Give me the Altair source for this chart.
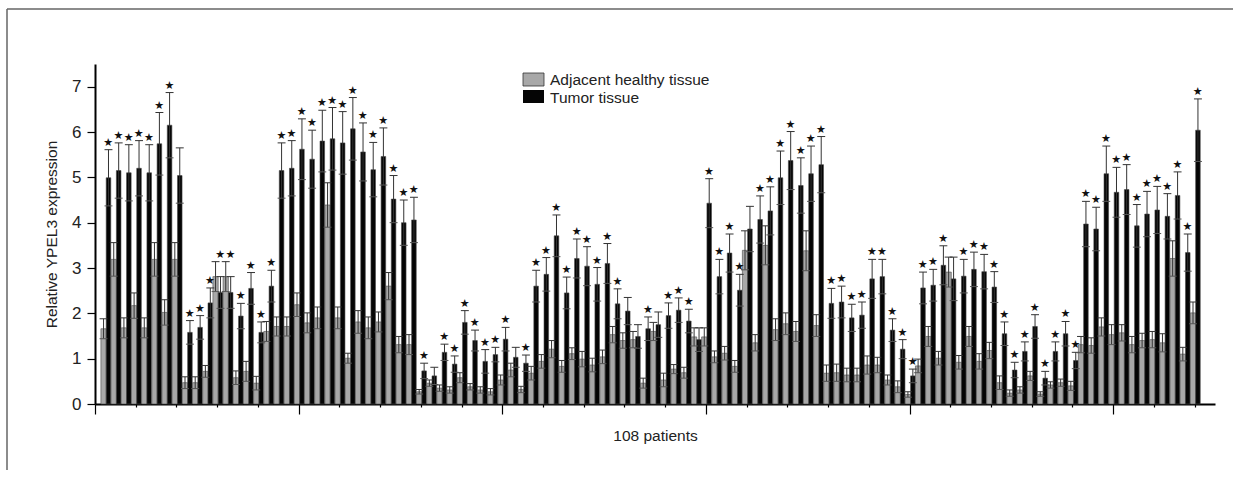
import altair as alt
import pandas as pd

FONT = "Liberation Sans, Arial, sans-serif"

patients = list(range(1, 109))

adjacent = [1.66, 3.19, 1.68, 2.17, 1.68, 3.19, 2.02, 3.19, 0.47, 0.47, 0.72, 2.81, 2.81, 0.58, 0.72, 0.46, 1.60, 1.71,
            1.71, 2.19, 1.79, 1.90, 4.39, 1.90, 1.01, 1.81, 1.68, 1.81, 2.60, 1.31, 1.31, 0.27, 0.46, 0.35, 0.31, 0.58, 0.38,
            0.31, 0.27, 0.53, 0.75, 0.32, 0.68, 0.94, 1.21, 0.83, 1.11, 0.99, 0.86, 1.04, 1.53, 1.40, 1.42, 0.46, 1.60, 0.53,
            0.77, 0.69, 1.48, 1.48, 1.04, 1.12, 0.83, 3.39, 1.35, 3.50, 1.64, 1.77, 1.60, 3.38, 1.73, 0.68, 0.69, 0.64, 0.64,
            0.86, 0.86, 0.53, 0.38, 0.21, 0.84, 1.49, 1.01, 2.91, 0.92, 1.49, 0.94, 1.18, 0.47, 0.24, 0.31, 0.62, 0.22, 0.42, 0.47,
            0.40, 1.31, 1.29, 1.70, 1.53, 1.57, 1.31, 1.40, 1.42, 1.35, 3.21, 1.10, 2.01]

tumor = [4.99, 5.15, 5.10, 5.20, 5.10, 5.74, 6.15, 5.04, 1.58, 1.69, 2.23, 2.46, 2.46, 1.94, 2.55, 1.58, 2.60, 5.15,
         5.20, 5.62, 5.40, 5.80, 5.85, 5.76, 6.07, 5.56, 5.17, 5.46, 4.52, 4.00, 4.06, 0.73, 0.62, 1.14, 0.88, 1.80, 1.40,
         0.94, 1.09, 1.43, 1.03, 0.90, 2.60, 2.86, 3.71, 2.45, 3.21, 3.04, 2.64, 3.10, 2.21, 2.05, 1.49, 1.66, 1.75, 1.95,
         2.07, 1.83, 1.42, 4.43, 2.81, 3.33, 2.51, 3.86, 4.07, 4.26, 4.99, 5.37, 4.82, 5.08, 5.28, 2.22, 2.25, 1.90, 1.96,
         2.76, 2.81, 1.63, 1.21, 0.62, 2.56, 2.62, 3.06, 2.76, 2.82, 2.97, 2.92, 2.58, 1.55, 0.75, 1.16, 1.71, 0.57, 1.16, 1.55,
         0.96, 3.97, 3.86, 5.08, 4.67, 4.73, 3.93, 4.19, 4.28, 4.14, 4.60, 3.34, 6.04]

adjacent_err = [0.22, 0.37, 0.22, 0.28, 0.22, 0.37, 0.28, 0.37, 0.13, 0.13, 0.13, 0.33, 0.33, 0.15, 0.22, 0.15, 0.22, 0.21,
                0.21, 0.26, 0.22, 0.24, 0.49, 0.24, 0.11, 0.25, 0.24, 0.22, 0.30, 0.18, 0.22, 0.05, 0.07, 0.07, 0.07, 0.11, 0.07,
                0.07, 0.07, 0.11, 0.15, 0.07, 0.15, 0.15, 0.19, 0.13, 0.13, 0.17, 0.15, 0.15, 0.18, 0.17, 0.18, 0.11, 0.20, 0.15,
                0.10, 0.12, 0.20, 0.20, 0.13, 0.15, 0.13, 0.43, 0.18, 0.43, 0.24, 0.24, 0.22, 0.44, 0.24, 0.18, 0.19, 0.15, 0.15,
                0.20, 0.17, 0.11, 0.13, 0.06, 0.15, 0.22, 0.15, 0.33, 0.15, 0.22, 0.17, 0.18, 0.15, 0.07, 0.07, 0.10, 0.05, 0.07, 0.08,
                0.10, 0.18, 0.17, 0.20, 0.22, 0.18, 0.18, 0.16, 0.18, 0.20, 0.39, 0.15, 0.24]

tumor_err = [0.62, 0.61, 0.62, 0.61, 0.62, 0.69, 0.72, 0.61, 0.26, 0.26, 0.33, 0.35, 0.35, 0.28, 0.35, 0.23, 0.35, 0.61,
             0.61, 0.67, 0.64, 0.68, 0.69, 0.69, 0.69, 0.64, 0.60, 0.63, 0.52, 0.50, 0.50, 0.17, 0.19, 0.18, 0.18, 0.26, 0.23,
             0.26, 0.16, 0.26, 0.22, 0.18, 0.35, 0.37, 0.46, 0.35, 0.43, 0.43, 0.37, 0.44, 0.33, 0.30, 0.26, 0.26, 0.28, 0.28,
             0.27, 0.26, 0.26, 0.54, 0.38, 0.42, 0.35, 0.50, 0.52, 0.53, 0.59, 0.64, 0.61, 0.61, 0.62, 0.33, 0.35, 0.30, 0.29,
             0.43, 0.38, 0.25, 0.21, 0.15, 0.35, 0.35, 0.43, 0.48, 0.37, 0.38, 0.38, 0.34, 0.26, 0.17, 0.21, 0.26, 0.15, 0.21, 0.27,
             0.18, 0.50, 0.48, 0.61, 0.55, 0.55, 0.47, 0.50, 0.52, 0.50, 0.52, 0.41, 0.69]

no_star = [8, 33, 41, 52, 53, 55, 59, 64, 84]

tissues = ["Adjacent healthy tissue", "Tumor tissue"]
colors = ["#a8a8a8", "#050505"]

rows = []
for i, p in enumerate(patients):
    rows.append(dict(patient=p, tissue=tissues[0], value=adjacent[i], err=adjacent_err[i],
                     x0=p - 0.42, x1=p + 0.10))
    rows.append(dict(patient=p, tissue=tissues[1], value=tumor[i], err=tumor_err[i],
                     x0=p + 0.10, x1=p + 0.55))
df = pd.DataFrame(rows)
df["xc"] = (df["x0"] + df["x1"]) / 2
df["lo"] = df["value"] - df["err"]
df["hi"] = df["value"] + df["err"]
df["cl"] = df["xc"] - 0.39
df["cr"] = df["xc"] + 0.39

star_rows = []
for i, p in enumerate(patients):
    if p in no_star:
        continue
    star_rows.append(dict(patient=p, xc=p + 0.30,
                          top=max(adjacent[i] + adjacent_err[i], tumor[i] + tumor_err[i])))
stars_df = pd.DataFrame(star_rows)

xscale = alt.Scale(domain=[0, 110], nice=False, zero=False)
yscale = alt.Scale(domain=[0, 7.5], nice=False)

xaxis = alt.Axis(
    values=list(range(0, 111)),
    tickSize={"condition": {"test": "datum.value % 10 === 0", "value": 10}, "value": 3},
    labels=False, title="108 patients", titleFont=FONT, titleFontSize=15.5,
    titleFontWeight="normal", titleColor="#222", titlePadding=14,
    domainColor="#000", domainWidth=2, tickColor="#000", tickWidth=1.2, grid=False,
)
yaxis = alt.Axis(
    values=[k * 0.5 for k in range(16)],
    labelExpr="datum.value % 1 === 0 ? datum.label : ''",
    tickSize={"condition": {"test": "datum.value % 1 === 0", "value": 8}, "value": 5},
    labelFont=FONT, labelFontSize=17, labelColor="#222", labelPadding=6, labelOverlap=False,
    title="Relative YPEL3 expression", titleFont=FONT, titleFontSize=15.5,
    titleFontWeight="normal", titleColor="#222", titlePadding=12,
    domainColor="#000", domainWidth=2, tickColor="#000", tickWidth=1.2, grid=False,
)

base = alt.Chart(df)

bars = base.mark_rect(stroke="#4a4a4a", strokeWidth=0.6).encode(
    x=alt.X("x0:Q", scale=xscale, axis=xaxis),
    x2="x1:Q",
    y=alt.Y("value:Q", scale=yscale, axis=yaxis),
    y2=alt.datum(0),
    fill=alt.Fill("tissue:N", scale=alt.Scale(domain=tissues, range=colors), legend=None),
)

whisker = base.mark_rule(color="#333", strokeWidth=1).encode(
    x="xc:Q", y="lo:Q", y2="hi:Q"
)
cap_hi = base.mark_rule(color="#333", strokeWidth=1).encode(
    x="cl:Q", x2="cr:Q", y="hi:Q"
)
cap_lo = base.mark_rule(color="#555", strokeWidth=1).encode(
    x="cl:Q", x2="cr:Q", y="lo:Q"
)

stars = alt.Chart(stars_df).mark_text(
    text="★", fontSize=11, dy=-7, baseline="middle", color="#111", font="DejaVu Sans"
).encode(x="xc:Q", y="top:Q")

one = pd.DataFrame({"k": [0]})
leg_grey = alt.Chart(one).mark_rect(fill=colors[0], stroke="#333", strokeWidth=0.8).encode(
    x=alt.value(428), x2=alt.value(449), y=alt.value(9), y2=alt.value(22))
leg_black = alt.Chart(one).mark_rect(fill=colors[1]).encode(
    x=alt.value(428), x2=alt.value(449), y=alt.value(26), y2=alt.value(39))
leg_t1 = alt.Chart(one).mark_text(align="left", baseline="alphabetic", font=FONT, fontSize=15.5,
                                  color="#222", text=tissues[0]).encode(
    x=alt.value(455), y=alt.value(21))
leg_t2 = alt.Chart(one).mark_text(align="left", baseline="alphabetic", font=FONT, fontSize=15.5,
                                  color="#222", text=tissues[1]).encode(
    x=alt.value(455), y=alt.value(38.5))

frame_top = alt.Chart(one).mark_rule(color="#666", strokeWidth=1.5).encode(
    x=alt.value(-88), x2=alt.value(1138), y=alt.value(-55))
frame_left = alt.Chart(one).mark_rule(color="#666", strokeWidth=1.5).encode(
    x=alt.value(-88), y=alt.value(-55), y2=alt.value(406))

chart = alt.layer(
    bars, whisker, cap_hi, cap_lo, stars, leg_grey, leg_black, leg_t1, leg_t2, frame_top, frame_left
).properties(
    width=1120, height=340,
    padding={"left": 95, "top": 64, "right": 18, "bottom": 78},
    autosize=alt.AutoSizeParams(type="none"),
    background="white",
).configure_view(stroke=None)

chart.save("out.html", embed_options={"renderer": "svg", "actions": False})
